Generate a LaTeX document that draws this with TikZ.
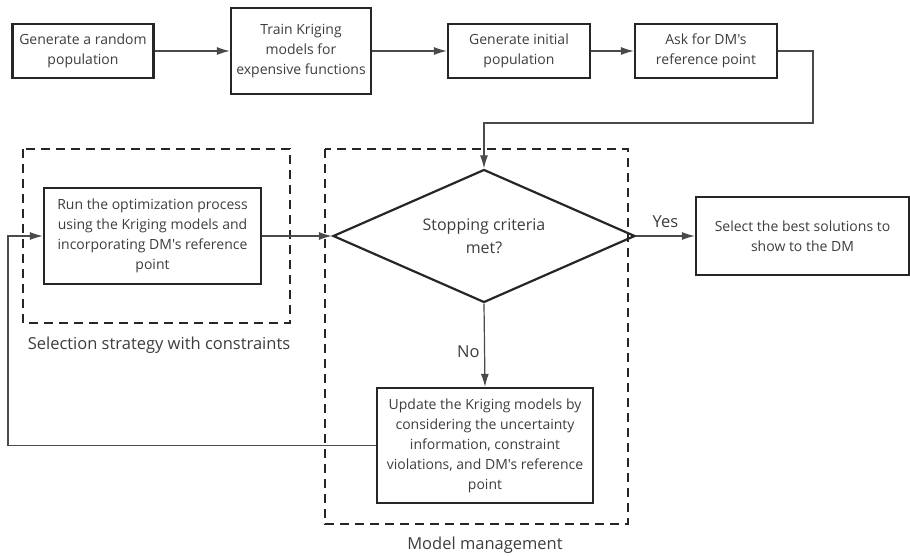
\documentclass[tikz,border=0pt]{standalone}
\usepackage{fontspec}
\setmainfont{Open Sans}[Ligatures=TeXOff]
\usepackage{tikz}
\usetikzlibrary{arrows.meta}
\usetikzlibrary{shapes.geometric}

\definecolor{txtgray}{HTML}{3D3D3D}
\definecolor{linegray}{HTML}{4A4A4A}

\begin{document}
\begin{tikzpicture}[
x                       = 1pt,
y                       = -1pt,
>                       = {Latex[length=13pt,width=8pt]},
every node/.style       = {font=\fontsize{14}{20}\selectfont, text=txtgray},
procnode/.style         = {rectangle, draw=black!85, line width=2.2pt, align=center, inner sep=0pt},
decnode/.style          = {diamond, shape aspect=2.27, draw=black!85, line width=2.2pt, align=center,
                           inner sep=0pt, font=\fontsize{16}{23}\selectfont},
groupbox/.style         = {draw=black!85, line width=2.2pt, dash pattern=on 9pt off 6pt},
flow/.style             = {draw=linegray, line width=1.2pt, ->},
grouplabel/.style       = {font=\fontsize{16.5}{20}\selectfont}
]

\useasboundingbox (0,0) rectangle (910,556);

% dashed groups
\draw [groupbox] (23,149) rectangle (290,323);
\draw [groupbox] (325,149) rectangle (628,524);
\node [grouplabel] (seltxt) at (159,345) {Selection strategy with constraints};
\node [grouplabel] (mmtxt) at (485,545) {Model management};

% top row
\node [procnode, minimum width=141pt, minimum height=54pt] (genpop) at (83,51)
      {Generate a random\\population};
\node [procnode, minimum width=140pt, minimum height=86pt] (train) at (301,51)
      {Train Kriging\\models for\\expensive functions};
\node [procnode, minimum width=142pt, minimum height=54pt] (initpop) at (519,51)
      {Generate initial\\population};
\node [procnode, minimum width=142pt, minimum height=54pt] (askref) at (706,51)
      {Ask for DM's\\reference point};

% middle row
\node [procnode, minimum width=217pt, minimum height=96pt] (runopt) at (152.5,236)
      {Run the optimization process\\using the Kriging models and\\incorporating DM's reference\\point};
\node [decnode, minimum width=302pt, minimum height=133pt] (stop) at (484,236)
      {Stopping criteria\\met?};
\node [procnode, minimum width=213pt, minimum height=78pt] (select) at (802.5,236)
      {Select the best solutions to\\show to the DM};

% bottom
\node [procnode, minimum width=216pt, minimum height=115pt] (update) at (485,445.5)
      {Update the Kriging models by\\considering the uncertainty\\information, constraint\\violations, and DM's reference\\point};

\coordinate (askturn) at (813,123);
\coordinate (backturn) at (8,445.5);

\draw [flow] (genpop) -- (train);
\draw [flow] (train) -- (initpop);
\draw [flow] (initpop) -- (askref);
\draw [flow] (askref.east) -| (askturn) -| (stop.north);
\draw [flow] (runopt.east) -- (stop.west);
\draw [flow] (stop.east) -- node[above, yshift=4pt, grouplabel] (yes) {Yes} (select.west);
\draw [flow] (stop.south) -- node[left, xshift=-1pt, yshift=-6pt, grouplabel] (no) {No} (update.north);
\draw [flow] (update.west) -- (backturn) |- (runopt.west);

\end{tikzpicture}
\end{document}
